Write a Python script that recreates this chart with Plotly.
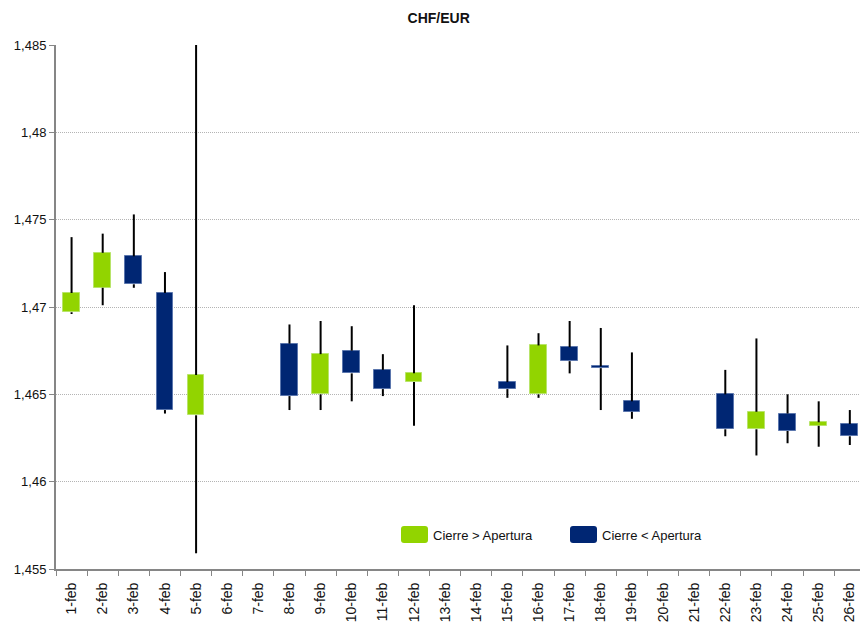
import plotly.graph_objects as go

# Daily CHF/EUR quotes, February (weekends left empty)
days = [f"{d}-feb" for d in range(1, 27)]
open_ = [1.4697, 1.4711, 1.4729, 1.4708, 1.4638, None, None,
         1.4679, 1.4650, 1.4675, 1.4664, 1.4657, None, None,
         1.4657, 1.4650, 1.4677, 1.4666, 1.4646, None, None,
         1.4650, 1.4630, 1.4639, 1.4632, 1.4633]
close = [1.4708, 1.4731, 1.4713, 1.4641, 1.4661, None, None,
         1.4649, 1.4673, 1.4662, 1.4653, 1.4662, None, None,
         1.4653, 1.4678, 1.4669, 1.4665, 1.4640, None, None,
         1.4630, 1.4640, 1.4629, 1.4634, 1.4626]
high = [1.4740, 1.4742, 1.4753, 1.4720, 1.4850, None, None,
        1.4690, 1.4692, 1.4689, 1.4673, 1.4701, None, None,
        1.4678, 1.4685, 1.4692, 1.4688, 1.4674, None, None,
        1.4664, 1.4682, 1.4650, 1.4646, 1.4641]
low = [1.4696, 1.4701, 1.4711, 1.4639, 1.4559, None, None,
       1.4641, 1.4641, 1.4646, 1.4649, 1.4632, None, None,
       1.4648, 1.4648, 1.4662, 1.4641, 1.4636, None, None,
       1.4626, 1.4615, 1.4622, 1.4620, 1.4621]

y_ticks = [1.455, 1.46, 1.465, 1.47, 1.475, 1.48, 1.485]
y_tick_text = ["1,455", "1,46", "1,465", "1,47", "1,475", "1,48", "1,485"]

UP = "#92d400"
DOWN = "#002673"
FONT = "Liberation Sans, Arial, sans-serif"

fig = go.Figure()

# Candle bodies
for is_up, color, edge in [(True, UP, "#b8e46a"), (False, DOWN, "#5b76ad")]:
    xs, bases, heights = [], [], []
    for d, o, c in zip(days, open_, close):
        if o is None or (c > o) != is_up:
            continue
        xs.append(d)
        bases.append(min(o, c))
        heights.append(abs(c - o))
    fig.add_trace(go.Bar(
        x=xs, y=heights, base=bases, width=0.54,
        marker=dict(color=color, line=dict(color=edge, width=1)),
        showlegend=False, hoverinfo="skip",
    ))

# High-low wicks, split around the body so they stay behind it
wx, wy = [], []
for d, o, c, h, l in zip(days, open_, close, high, low):
    if o is None:
        continue
    top, bot = max(o, c), min(o, c)
    wx += [d, d, None, d, d, None]
    wy += [bot, l, None, h, top, None]
fig.add_trace(go.Scatter(
    x=wx, y=wy, mode="lines", line=dict(color="black", width=2),
    connectgaps=False, showlegend=False, hoverinfo="skip",
))

# Plot-area geometry in pixels (used to place the legend keys)
W, H = 860, 623
L, R, T, B = 56, 0, 45, 54
pw, ph = W - L - R, H - T - B


def px(x):
    return (x - L) / pw


def py(y):
    return (H - B - y) / ph


def rounded(x0, y0, x1, y1, r=3):
    a0, a1 = px(x0), px(x1)
    b0, b1 = py(y1), py(y0)
    rx, ry = r / pw, r / ph
    return (f"M {a0 + rx},{b0} L {a1 - rx},{b0} Q {a1},{b0} {a1},{b0 + ry} "
            f"L {a1},{b1 - ry} Q {a1},{b1} {a1 - rx},{b1} L {a0 + rx},{b1} "
            f"Q {a0},{b1} {a0},{b1 - ry} L {a0},{b0 + ry} Q {a0},{b0} {a0 + rx},{b0} Z")


legend_items = [("Cierre > Apertura", UP, 401), ("Cierre < Apertura", DOWN, 570)]
shapes, annotations = [], []
for text, color, x0 in legend_items:
    shapes.append(dict(type="path", xref="paper", yref="paper",
                       path=rounded(x0, 526, x0 + 27, 543),
                       fillcolor=color, line=dict(width=0)))
    annotations.append(dict(xref="paper", yref="paper", x=px(x0 + 30), y=py(535),
                            xanchor="left", yanchor="middle", showarrow=False,
                            text=text, font=dict(family=FONT, size=13, color="#111")))

fig.update_layout(
    width=W, height=H,
    margin=dict(l=L, r=R, t=T, b=B, autoexpand=False),
    paper_bgcolor="white", plot_bgcolor="white",
    barmode="overlay", bargap=0,
    font=dict(family=FONT, size=13, color="#111"),
    title=dict(text="<b>CHF/EUR</b>", x=438.7 / W, xanchor="center",
               y=1 - 18 / H, yanchor="middle", yref="container",
               font=dict(family=FONT, size=14, color="#111")),
    shapes=shapes, annotations=annotations,
    xaxis=dict(
        type="category", categoryorder="array", categoryarray=days,
        range=[-0.5, -0.5 + pw / 31.13],
        tickmode="array", tickvals=days, ticktext=days,
        tickangle=-90, tickson="boundaries", ticks="outside", ticklen=5,
        tickcolor="#868686", tickwidth=1, ticklabelstandoff=6,
        showline=True, linecolor="#868686", linewidth=2,
        showgrid=False, automargin=False, fixedrange=True,
        tickfont=dict(family=FONT, size=14, color="#111"),
    ),
    yaxis=dict(
        range=[1.455, 1.485], tickmode="array",
        tickvals=y_ticks, ticktext=y_tick_text,
        ticks="outside", ticklen=5, tickcolor="#868686", tickwidth=1,
        showline=True, linecolor="#868686", linewidth=2,
        showgrid=True, gridcolor="#b4b4b4", gridwidth=1, griddash="1px,1px",
        zeroline=False, automargin=False, fixedrange=True,
        tickfont=dict(family=FONT, size=13, color="#111"),
    ),
)

fig.write_html("out.html", config={"displayModeBar": False})
